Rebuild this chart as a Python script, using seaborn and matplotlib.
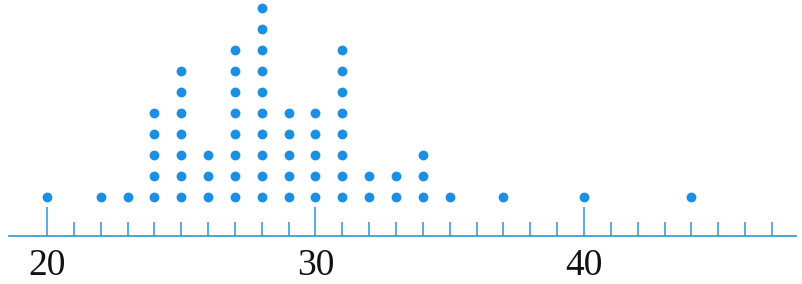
import numpy as np
import pandas as pd
import matplotlib
matplotlib.use("Agg")
import matplotlib.pyplot as plt
import seaborn as sns

# Data
values = [20, 22, 23, 24, 25, 26, 27, 28, 29, 30, 31, 32, 33, 34, 35, 37, 40, 44]
counts = [1, 1, 1, 5, 7, 3, 8, 10, 5, 5, 8, 2, 2, 3, 1, 1, 1, 1]
major_ticks = [20, 30, 40]
major_labels = ["20", "30", "40"]

rows = []
for v, c in zip(values, counts):
    for k in range(1, c + 1):
        rows.append({"value": v, "level": k})
df = pd.DataFrame(rows)

sns.set_style("white")
blue = "#1b8fe2"
axis_blue = "#2a96d6"

fig = plt.figure(figsize=(8.02, 2.84), dpi=100)
ax = fig.add_axes([0, 0, 1, 1])

sns.scatterplot(data=df, x="value", y="level", ax=ax, color=blue, s=50,
                linewidth=0, legend=False, zorder=3)

ax.set_xlim(18.25, 48.12)
ax.set_ylim(-3.14, 10.38)

for s in ["top", "right", "left"]:
    ax.spines[s].set_visible(False)
ax.spines["bottom"].set_position(("data", -0.857))
ax.spines["bottom"].set_color(axis_blue)
ax.spines["bottom"].set_linewidth(1.2)
ax.spines["bottom"].set_bounds(18.6, 47.9)

ax.set_yticks([])
ax.set_xticks(major_ticks)
ax.set_xticklabels(major_labels, family="Liberation Serif", fontsize=27, color="#111111")
ax.set_xticks(list(range(21, 48)), minor=True)
ax.tick_params(axis="x", which="both", bottom=True, top=False)
ax.tick_params(axis="x", which="major", direction="in", length=21, width=1.1,
               color=axis_blue, pad=9)
ax.tick_params(axis="x", which="minor", direction="in", length=10, width=1.1,
               color=axis_blue)
ax.set_xlabel("")
ax.set_ylabel("")
ax.patch.set_alpha(0)

fig.savefig("out.png", dpi=100, facecolor="white")
